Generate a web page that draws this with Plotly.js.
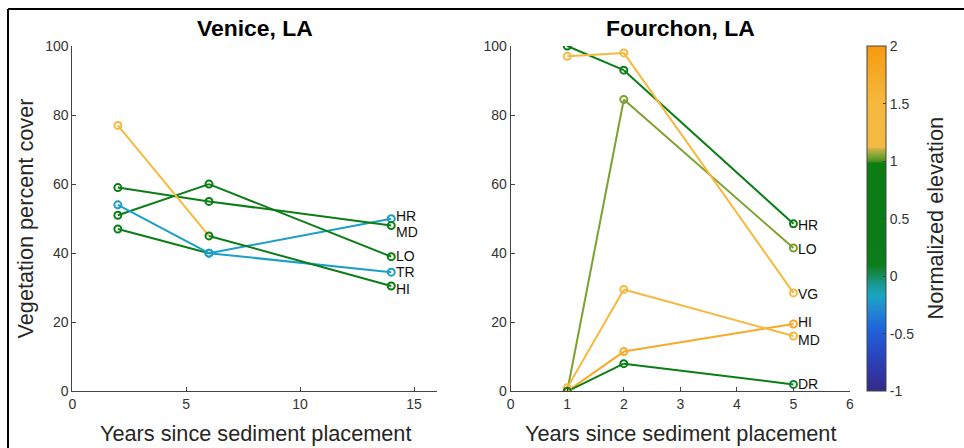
<!DOCTYPE html>
<html><head><meta charset="utf-8">
<script src="https://cdn.plot.ly/plotly-3.0.1.min.js"></script>
<style>html,body{margin:0;padding:0;background:#fff}#chart{width:964px;height:448px}</style>
</head><body><div id="chart"></div>
<script>
// ---------- DATA ----------
// Venice, LA
const veniceYears = [2, 6, 14];
const veniceHR = [47, 40, 50];     const veniceHRElev = [0.5, -0.2, -0.2];
const veniceMD = [59, 55, 48];     const veniceMDElev = [0.5, 0.5, 0.5];
const veniceLO = [51, 60, 39];     const veniceLOElev = [0.5, 0.5, 0.5];
const veniceTR = [54, 40, 34.5];   const veniceTRElev = [-0.2, -0.2, -0.2];
const veniceHI = [77, 45, 30.5];   const veniceHIElev = [1.35, 0.5, 0.5];

// Fourchon, LA
const fourchonYears = [1, 2, 5];
const fourchonHR = [100, 93, 48.5]; const fourchonHRElev = [0.5, 0.5, 0.5];
const fourchonLO = [0, 84.5, 41.5]; const fourchonLOElev = [1.04, 1.04, 1.04];
const fourchonVG = [97, 98, 28.5];  const fourchonVGElev = [1.35, 1.35, 1.35];
const fourchonHI = [0, 11.5, 19.5]; const fourchonHIElev = [1.75, 1.75, 1.75];
const fourchonMD = [1, 29.5, 16];   const fourchonMDElev = [1.35, 1.35, 1.35];
const fourchonDR = [0, 8, 2];       const fourchonDRElev = [0.5, 0.5, 0.05];

const cbTickVals = [-1, -0.5, 0, 0.5, 1, 1.5, 2];
const cbTickText = ['-1', '-0.5', '0', '0.5', '1', '1.5', '2'];

// ---------- STYLE ----------
const FONT = 'Liberation Sans, Arial, Helvetica, sans-serif';
const cmin = -1, cmax = 2;
const colorscale = [
  [0.0, '#352A87'], [0.0667, '#2E3AAE'], [0.1333, '#2650CC'], [0.1833, '#1E66DA'],
  [0.2333, '#2386D2'], [0.2733, '#1AA4C4'], [0.3067, '#169B98'], [0.3333, '#178C5C'],
  [0.3667, '#0B7D1A'], [0.66, '#0B7D12'], [0.6667, '#4E9322'], [0.6833, '#86A633'],
  [0.70, '#C2AF45'], [0.7067, '#F5BA44'], [0.8333, '#F6B83E'], [1.0, '#F79A10']
];
function hex(h){return [parseInt(h.slice(1,3),16),parseInt(h.slice(3,5),16),parseInt(h.slice(5,7),16)];}
function colorAt(v){
  const t = Math.max(0, Math.min(1, (v - cmin) / (cmax - cmin)));
  for (let i = 0; i < colorscale.length - 1; i++) {
    const a = colorscale[i], b = colorscale[i+1];
    if (t >= a[0] && t <= b[0]) {
      const f = (t - a[0]) / (b[0] - a[0] || 1);
      const ca = hex(a[1]), cb = hex(b[1]);
      return 'rgb(' + ca.map((c, k) => Math.round(c + (cb[k] - c) * f)).join(',') + ')';
    }
  }
  return colorscale[colorscale.length-1][1];
}

const lineTraces = [], markerTraces = [], annotations = [];
const labelFont = {family: FONT, size: 14, color: '#111'};

function addSite(name, xa, ya, years, cover, elev, yshift) {
  for (let i = 0; i < years.length - 1; i++) {
    lineTraces.push({
      x: [years[i], years[i+1]], y: [cover[i], cover[i+1]], xaxis: xa, yaxis: ya,
      mode: 'lines', line: {color: colorAt(elev[i]), width: 2},
      hoverinfo: 'skip', showlegend: false
    });
  }
  markerTraces.push({
    x: years, y: cover, xaxis: xa, yaxis: ya, mode: 'markers', name: name,
    marker: {symbol: 'circle-open', size: 7, color: elev, colorscale: colorscale,
             cmin: cmin, cmax: cmax, line: {width: 2}, showscale: false},
    showlegend: false
  });
  const n = years.length - 1;
  annotations.push({
    xref: xa, yref: ya, x: years[n], y: cover[n], text: name, showarrow: false,
    xanchor: 'left', yanchor: 'middle', xshift: 4, yshift: yshift, font: labelFont,
    borderpad: 0
  });
}

addSite('HR', 'x', 'y', veniceYears, veniceHR, veniceHRElev, 3);
addSite('MD', 'x', 'y', veniceYears, veniceMD, veniceMDElev, -6);
addSite('LO', 'x', 'y', veniceYears, veniceLO, veniceLOElev, 1);
addSite('TR', 'x', 'y', veniceYears, veniceTR, veniceTRElev, 0);
addSite('HI', 'x', 'y', veniceYears, veniceHI, veniceHIElev, -3);

addSite('HR', 'x2', 'y2', fourchonYears, fourchonHR, fourchonHRElev, -1);
addSite('LO', 'x2', 'y2', fourchonYears, fourchonLO, fourchonLOElev, -1);
addSite('VG', 'x2', 'y2', fourchonYears, fourchonVG, fourchonVGElev, -1.5);
addSite('HI', 'x2', 'y2', fourchonYears, fourchonHI, fourchonHIElev, 2);
addSite('MD', 'x2', 'y2', fourchonYears, fourchonMD, fourchonMDElev, -4);
addSite('DR', 'x2', 'y2', fourchonYears, fourchonDR, fourchonDRElev, 0);

// colorbar on one marker trace
const cbTrace = markerTraces[markerTraces.length - 1];
cbTrace.marker.showscale = true;
cbTrace.marker.colorbar = {
  thickness: 19, thicknessmode: 'pixels', len: 345.3/448, lenmode: 'fraction',
  x: 866.7/964, xanchor: 'left', y: 56.7/448, yanchor: 'bottom', xpad: 0, ypad: 0,
  outlinewidth: 1, outlinecolor: '#444', ticks: 'inside', ticklen: 3, tickcolor: '#444',
  tickvals: cbTickVals, ticktext: cbTickText,
  tickfont: {family: FONT, size: 14, color: '#333'}
};

const W = 964, H = 448;
const axTitleFont = {family: FONT, size: 21.7, color: '#262626'};
const titleFont = {family: FONT, size: 22.9, color: '#000', weight: 'bold'};
const tickFont = {family: FONT, size: 14, color: '#333'};
const axCommon = {
  showline: true, linecolor: '#444', linewidth: 1, ticks: 'inside', ticklen: 4,
  tickcolor: '#444', showgrid: false, zeroline: false, tickfont: tickFont, fixedrange: true
};

annotations.push(
  {xref: 'paper', yref: 'paper', x: 254.5/W, y: 1 - 28/H, text: '<b>Venice, LA</b>', showarrow: false,
   xanchor: 'center', yanchor: 'middle', font: titleFont},
  {xref: 'paper', yref: 'paper', x: 680.5/W, y: 1 - 28/H, text: '<b>Fourchon, LA</b>', showarrow: false,
   xanchor: 'center', yanchor: 'middle', font: titleFont},
  {xref: 'paper', yref: 'paper', x: 255.5/W, y: 1 - 433/H, text: 'Years since sediment placement', showarrow: false,
   xanchor: 'center', yanchor: 'middle', font: axTitleFont},
  {xref: 'paper', yref: 'paper', x: 680.5/W, y: 1 - 433/H, text: 'Years since sediment placement', showarrow: false,
   xanchor: 'center', yanchor: 'middle', font: axTitleFont},
  {xref: 'paper', yref: 'paper', x: 25/W, y: 1 - 218.5/H, text: 'Vegetation percent cover', showarrow: false,
   textangle: -90, xanchor: 'center', yanchor: 'middle', font: axTitleFont},
  {xref: 'paper', yref: 'paper', x: 935/W, y: 1 - 218.5/H, text: 'Normalized elevation', showarrow: false,
   textangle: -90, xanchor: 'center', yanchor: 'middle', font: axTitleFont}
);

const layout = {
  width: W, height: H, margin: {l: 0, r: 0, t: 0, b: 0},
  paper_bgcolor: '#fff', plot_bgcolor: 'rgba(0,0,0,0)', showlegend: false,
  font: {family: FONT},
  xaxis: Object.assign({}, axCommon, {domain: [72.3/W, 436.8/W], range: [0, 16], tickvals: [0, 5, 10, 15], anchor: 'y'}),
  yaxis: Object.assign({}, axCommon, {domain: [56.7/H, 402/H], range: [0, 100], tickvals: [0, 20, 40, 60, 80, 100], anchor: 'x'}),
  xaxis2: Object.assign({}, axCommon, {domain: [510.7/W, 850/W], range: [0, 6], tickvals: [0, 1, 2, 3, 4, 5, 6], anchor: 'y2'}),
  yaxis2: Object.assign({}, axCommon, {domain: [56.7/H, 402/H], range: [0, 100], tickvals: [0, 20, 40, 60, 80, 100], anchor: 'x2'}),
  annotations: annotations,
  shapes: [
    {type: 'line', xref: 'paper', yref: 'paper', x0: 8/W, x1: 1, y0: 1 - 9/H, y1: 1 - 9/H, line: {color: '#000', width: 2}},
    {type: 'line', xref: 'paper', yref: 'paper', x0: 8/W, x1: 8/W, y0: 0, y1: 1 - 9/H, line: {color: '#000', width: 2}}
  ]
};

Plotly.newPlot('chart', lineTraces.concat(markerTraces), layout, {displayModeBar: false, staticPlot: true});
</script>
</body></html>
